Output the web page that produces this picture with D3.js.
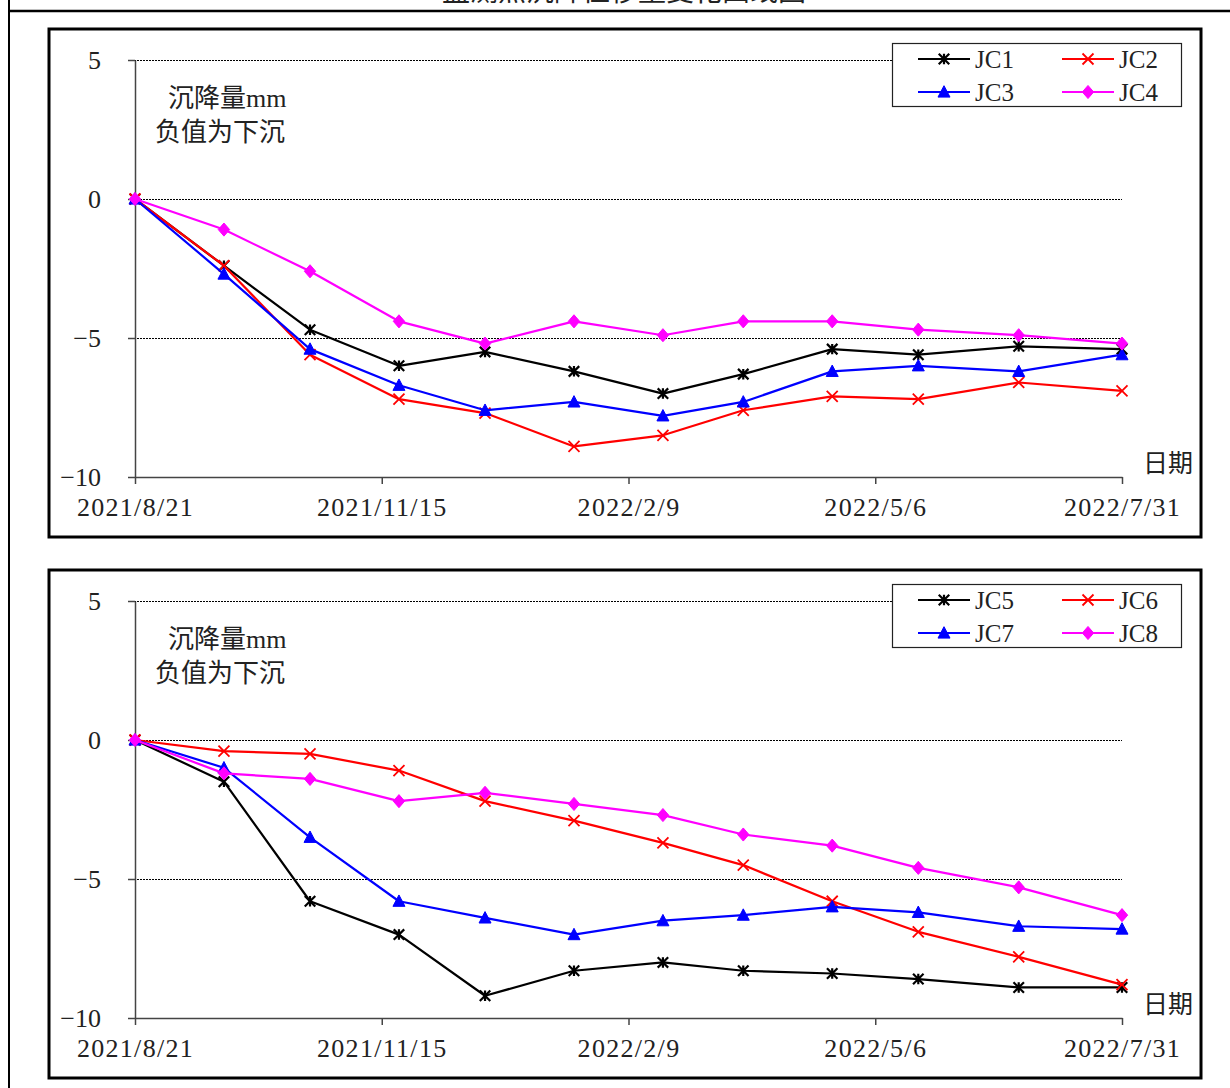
<!DOCTYPE html>
<html>
<head>
<meta charset="utf-8">
<script src="https://cdn.jsdelivr.net/npm/d3@7"></script>
<style>
  html, body { margin: 0; padding: 0; background: #fff; }
  svg { display: block; }
  text { font-family: "Liberation Serif", "Noto Sans CJK SC", serif; fill: #222; }
</style>
</head>
<body>
<svg id="chart" width="1230" height="1088"></svg>
<script>
// Survey dates (monthly readings)
const dates = ["2021-08-21", "2021-09-21", "2021-10-21", "2021-11-21", "2021-12-21", "2022-01-21",
               "2022-02-21", "2022-03-21", "2022-04-21", "2022-05-21", "2022-06-25", "2022-07-31"];
const tickDates = ["2021-08-21", "2021-11-15", "2022-02-09", "2022-05-06", "2022-07-31"];
const tickLabels = ["2021/8/21", "2021/11/15", "2022/2/9", "2022/5/6", "2022/7/31"];
const yTicks = [5, 0, -5, -10];

// Settlement (mm), negative = subsidence
const jc1 = [0, -2.4, -4.7, -6.0, -5.5, -6.2, -7.0, -6.3, -5.4, -5.6, -5.3, -5.4];
const jc2 = [0, -2.4, -5.6, -7.2, -7.7, -8.9, -8.5, -7.6, -7.1, -7.2, -6.6, -6.9];
const jc3 = [0, -2.7, -5.4, -6.7, -7.6, -7.3, -7.8, -7.3, -6.2, -6.0, -6.2, -5.6];
const jc4 = [0, -1.1, -2.6, -4.4, -5.2, -4.4, -4.9, -4.4, -4.4, -4.7, -4.9, -5.2];
const jc5 = [0, -1.5, -5.8, -7.0, -9.2, -8.3, -8.0, -8.3, -8.4, -8.6, -8.9, -8.9];
const jc6 = [0, -0.4, -0.5, -1.1, -2.2, -2.9, -3.7, -4.5, -5.8, -6.9, -7.8, -8.8];
const jc7 = [0, -1.0, -3.5, -5.8, -6.4, -7.0, -6.5, -6.3, -6.0, -6.2, -6.7, -6.8];
const jc8 = [0, -1.2, -1.4, -2.2, -1.9, -2.3, -2.7, -3.4, -3.8, -4.6, -5.3, -6.3];

const seriesNames1 = ["JC1", "JC2", "JC3", "JC4"];
const seriesNames2 = ["JC5", "JC6", "JC7", "JC8"];

const parse = d3.timeParse("%Y-%m-%d");
const svg = d3.select("#chart");

// Marker shapes
const asterisk = {
  draw(ctx, size) {
    const r = Math.sqrt(size) / 2;
    ctx.moveTo(0, -r); ctx.lineTo(0, r);
    ctx.moveTo(-r, -r); ctx.lineTo(r, r);
    ctx.moveTo(-r, r); ctx.lineTo(r, -r);
  }
};
const cross = {
  draw(ctx, size) {
    const r = Math.sqrt(size) / 2;
    ctx.moveTo(-r, -r); ctx.lineTo(r, r);
    ctx.moveTo(-r, r); ctx.lineTo(r, -r);
  }
};
const diamond = {
  draw(ctx, size) {
    const w = Math.sqrt(size) / 2, h = w * 1.15;
    ctx.moveTo(0, -h); ctx.lineTo(w, 0); ctx.lineTo(0, h); ctx.lineTo(-w, 0); ctx.closePath();
  }
};
const triangle = {
  draw(ctx, size) {
    const w = Math.sqrt(size) / 2;
    ctx.moveTo(0, -w * 1.05); ctx.lineTo(w, w * 0.85); ctx.lineTo(-w, w * 0.85); ctx.closePath();
  }
};

const styles = [
  { color: "#000000", type: asterisk, size: 110, fill: false, sw: 2.2 },
  { color: "#ff0000", type: cross, size: 121, fill: false, sw: 1.8 },
  { color: "#0000ff", type: triangle, size: 144, fill: true, sw: 1 },
  { color: "#ff00ff", type: diamond, size: 130, fill: true, sw: 1 }
];

// Outer frame of the sheet
svg.append("line").attr("x1", 9).attr("x2", 9).attr("y1", 0).attr("y2", 1088)
  .attr("stroke", "#000").attr("stroke-width", 2);
svg.append("line").attr("x1", 8).attr("x2", 1230).attr("y1", 11).attr("y2", 11)
  .attr("stroke", "#000").attr("stroke-width", 2.5);
svg.append("text").attr("x", 624).attr("y", 1).attr("text-anchor", "middle")
  .style("font-size", "28px").text("监测点沉降位移量变化曲线图");

function drawPanel(offsetY, names, seriesData) {
  const g = svg.append("g").attr("transform", `translate(0,${offsetY})`);

  g.append("rect").attr("x", 49).attr("y", 29).attr("width", 1152).attr("height", 508)
    .attr("fill", "#fff").attr("stroke", "#000").attr("stroke-width", 3);

  const x = d3.scaleTime()
    .domain([parse(tickDates[0]), parse(tickDates[tickDates.length - 1])])
    .range([135, 1122]);
  const y = d3.scaleLinear().domain([-10, 5]).range([477, 60]);

  // dotted gridlines
  g.append("g").selectAll("line").data(yTicks.filter(v => v > -10)).join("line")
    .attr("x1", 128).attr("x2", 1122)
    .attr("y1", d => y(d) + 0.5).attr("y2", d => y(d) + 0.5)
    .attr("stroke", "#000").attr("stroke-width", 1).attr("stroke-dasharray", "2,1")
    .attr("shape-rendering", "crispEdges");

  // axes
  const yAxis = d3.axisLeft(y).tickValues(yTicks).tickSize(7).tickSizeOuter(0).tickPadding(27)
    .tickFormat(d => d < 0 ? "\u2212" + Math.abs(d) : String(d));
  const ya = g.append("g").attr("transform", "translate(135,0)").call(yAxis);
  ya.selectAll("text").style("font-size", "26px").attr("fill", "#222");

  const xAxis = d3.axisBottom(x).tickValues(tickDates.map(parse)).tickSize(7).tickSizeOuter(0)
    .tickPadding(14).tickFormat((d, i) => tickLabels[i]);
  const xa = g.append("g").attr("transform", "translate(0,477)").call(xAxis);
  xa.selectAll("text").style("font-size", "26px").style("letter-spacing", "1.3px").attr("fill", "#222");

  [ya, xa].forEach(a => {
    a.selectAll("path, line").attr("stroke", "#444").attr("stroke-width", 1.5);
  });

  // axis captions
  g.append("text").attr("x", 168).attr("y", 107).style("font-size", "26px").text("沉降量mm");
  g.append("text").attr("x", 155).attr("y", 141).style("font-size", "26px").text("负值为下沉");
  g.append("text").attr("x", 1143).attr("y", 472).style("font-size", "25px").text("日期");

  const line = d3.line().x(d => x(d.date)).y(d => y(d.value));

  seriesData.forEach((vals, i) => {
    const st = styles[i];
    const pts = vals.map((v, j) => ({ date: parse(dates[j]), value: v }));
    g.append("path").datum(pts).attr("d", line)
      .attr("fill", "none").attr("stroke", st.color).attr("stroke-width", 2.2)
      .attr("stroke-linejoin", "round");
    g.append("g").selectAll("path").data(pts).join("path")
      .attr("transform", d => `translate(${x(d.date)},${y(d.value)})`)
      .attr("d", d3.symbol().type(st.type).size(st.size))
      .attr("fill", st.fill ? st.color : "none")
      .attr("stroke", st.color).attr("stroke-width", st.sw);
  });

  // legend
  const lg = g.append("g");
  lg.append("rect").attr("x", 892.5).attr("y", 43.5).attr("width", 289).attr("height", 63)
    .attr("fill", "#fff").attr("stroke", "#222").attr("stroke-width", 1.2);
  names.forEach((name, i) => {
    const st = styles[i];
    const col = i % 2, row = Math.floor(i / 2);
    const lx = 918 + col * 144, ly = 59 + row * 33;
    lg.append("line").attr("x1", lx).attr("x2", lx + 52).attr("y1", ly).attr("y2", ly)
      .attr("stroke", st.color).attr("stroke-width", 2.2);
    lg.append("path").attr("transform", `translate(${lx + 26},${ly})`)
      .attr("d", d3.symbol().type(st.type).size(st.size))
      .attr("fill", st.fill ? st.color : "none")
      .attr("stroke", st.color).attr("stroke-width", st.sw);
    lg.append("text").attr("x", lx + 57).attr("y", ly + 9).style("font-size", "25px").text(name);
  });
}

drawPanel(0, seriesNames1, [jc1, jc2, jc3, jc4]);
drawPanel(541, seriesNames2, [jc5, jc6, jc7, jc8]);
</script>
</body>
</html>
